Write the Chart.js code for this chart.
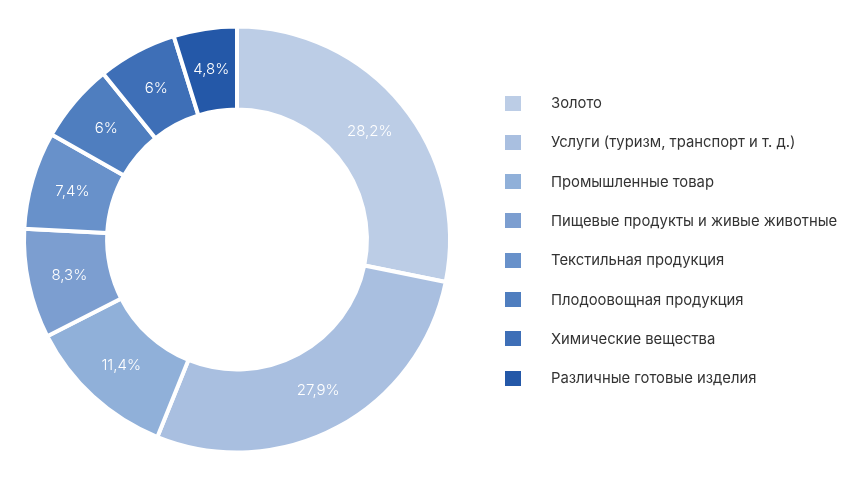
<!DOCTYPE html>
<html>
<head>
<meta charset="utf-8">
<script src="https://cdn.jsdelivr.net/npm/chart.js@4.4.0/dist/chart.umd.min.js"></script>
<style>
  html, body { margin: 0; padding: 0; background: #fff; }
  #wrap { position: relative; width: 864px; height: 478px; }
  #legenda { position: absolute; left: 505px; top: 0; font-family: Inter, "Noto Sans", sans-serif; font-size: 14.8px; color: #333; }
  .item { position: absolute; left: 0; white-space: nowrap; display: flex; align-items: center; }
  .item span.box { display: inline-block; width: 16px; height: 15px; margin-right: 30px; }
</style>
</head>
<body>
<div id="wrap">
  <canvas id="grafico" width="864" height="478"></canvas>
  <div id="legenda"></div>
</div>
<script>
// categorias e valores (%)
const categorias = [
  'Золото',
  'Услуги (туризм, транспорт и т. д.)',
  'Промышленные товар',
  'Пищевые продукты и живые животные',
  'Текстильная продукция',
  'Плодоовощная продукция',
  'Химические вещества',
  'Различные готовые изделия'
];
const valores = [28.2, 27.9, 11.4, 8.3, 7.4, 6, 6, 4.8];
const rotulos = ['28,2%', '27,9%', '11,4%', '8,3%', '7,4%', '6%', '6%', '4,8%'];
const cores = ['#bccde6', '#a9bfe0', '#90b0d9', '#7c9ed0', '#6891ca', '#4f7ebf', '#3e6fb7', '#2458a8'];

// legenda em HTML
const legenda = document.getElementById('legenda');
categorias.forEach((nome, i) => {
  const div = document.createElement('div');
  div.className = 'item';
  div.style.top = (94 + i * 39.3) + 'px';
  const box = document.createElement('span');
  box.className = 'box';
  box.style.background = cores[i];
  div.appendChild(box);
  div.appendChild(document.createTextNode(nome));
  legenda.appendChild(div);
});

// plugin simples para escrever as porcentagens dentro das fatias
const rotulosPlugin = {
  id: 'rotulos',
  afterDatasetsDraw(chart) {
    const ctx = chart.ctx;
    const meta = chart.getDatasetMeta(0);
    ctx.save();
    ctx.fillStyle = '#ffffff';
    ctx.font = '300 15px Inter, "Noto Sans", sans-serif';
    ctx.textAlign = 'center';
    ctx.textBaseline = 'middle';
    meta.data.forEach((arc, i) => {
      const pos = arc.tooltipPosition();
      ctx.fillText(rotulos[i], pos.x, pos.y);
    });
    ctx.restore();
  }
};

const ctx = document.getElementById('grafico').getContext('2d');
new Chart(ctx, {
  type: 'doughnut',
  data: {
    labels: categorias,
    datasets: [{
      data: valores,
      backgroundColor: cores,
      borderColor: '#ffffff',
      borderWidth: 4
    }]
  },
  options: {
    responsive: false,
    animation: false,
    cutout: '61%',
    layout: { padding: { left: 22, right: 412, top: 23, bottom: 22 } },
    plugins: {
      legend: { display: false },
      tooltip: { enabled: false }
    }
  },
  plugins: [rotulosPlugin]
});
</script>
</body>
</html>
